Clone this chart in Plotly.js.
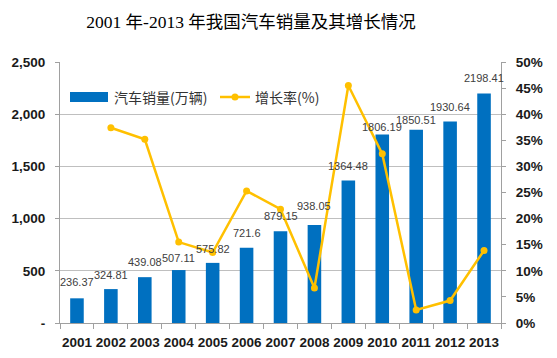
<!DOCTYPE html>
<html>
<head>
<meta charset="utf-8">
<script src="https://cdn.plot.ly/plotly-3.0.1.min.js"></script>
<style>html,body{margin:0;padding:0;background:#fff;}#chart{width:557px;height:358px;}</style>
</head>
<body>
<div id="chart"></div>
<script>
var years = ['2001','2002','2003','2004','2005','2006','2007','2008','2009','2010','2011','2012','2013'];
var sales = [236.37, 324.81, 439.08, 507.11, 575.82, 721.6, 879.15, 938.05, 1364.48, 1806.19, 1850.51, 1930.64, 2198.41];
var salesLabels = ['236.37','324.81','439.08','507.11','575.82','721.6','879.15','938.05','1364.48','1806.19','1850.51','1930.64','2198.41'];
var growthYears = ['2002','2003','2004','2005','2006','2007','2008','2009','2010','2011','2012','2013'];
var growth = [0.374, 0.352, 0.155, 0.135, 0.253, 0.218, 0.067, 0.455, 0.324, 0.025, 0.043, 0.139];
var leftTickVals = [0, 500, 1000, 1500, 2000, 2500];
var leftTickText = ['-', '500', '1,000', '1,500', '2,000', '2,500'];
var seriesNames = ['汽车销量(万辆)', '增长率(%)'];

// label lift above each bar (px), as placed in the original chart
var labelLift = [8, 6, 7, 4, 6, 7, 7, 11, 7, -1, 2, 6, 7];

var W = 557, H = 358, ML = 60, MR = 56, MT = 62, MB = 35;
var PW = W - ML - MR, PH = H - MT - MB;
function px(x) { return (x - ML) / PW; }
function py(y) { return (H - MB - y) / PH; }

var BLUE = '#0070C0', GOLD = '#FFC000';
var tickFont = {family: 'Liberation Sans, Arial, sans-serif', size: 13.5, color: '#1a1a1a', weight: 'bold'};

var traces = [
  {
    type: 'bar', x: years, y: sales, name: seriesNames[0],
    marker: {color: BLUE}, hoverinfo: 'none'
  },
  {
    type: 'scatter', mode: 'lines+markers', x: growthYears, y: growth, name: seriesNames[1],
    yaxis: 'y2', line: {color: GOLD, width: 2.5}, marker: {color: GOLD, size: 7},
    hoverinfo: 'none'
  }
];

// category axis: annotation x given as the category index
var annotations = years.map(function (yr, i) {
  return {
    x: years.indexOf(yr), y: sales[i], xref: 'x', yref: 'y', text: salesLabels[i],
    showarrow: false, xanchor: 'center', yanchor: 'bottom', yshift: labelLift[i],
    font: {family: 'Liberation Sans, Arial, sans-serif', size: 11, color: '#404040'}
  };
});
// legend texts
annotations.push({
  x: px(112), y: py(97), xref: 'paper', yref: 'paper', text: seriesNames[0],
  showarrow: false, xanchor: 'left', yanchor: 'middle',
  font: {family: 'Noto Sans CJK SC, sans-serif', size: 14, color: '#333'}
});
annotations.push({
  x: px(253), y: py(97), xref: 'paper', yref: 'paper', text: seriesNames[1],
  showarrow: false, xanchor: 'left', yanchor: 'middle',
  font: {family: 'Noto Sans CJK SC, sans-serif', size: 14, color: '#333'}
});

var shapes = [
  {type: 'rect', xref: 'paper', yref: 'paper', x0: px(70), x1: px(108), y0: py(102), y1: py(92),
   fillcolor: BLUE, line: {width: 0}},
  {type: 'line', xref: 'paper', yref: 'paper', x0: px(220), x1: px(250), y0: py(97), y1: py(97),
   line: {color: GOLD, width: 2.5}},
  {type: 'circle', xref: 'paper', yref: 'paper', x0: px(231.5), x1: px(238.5), y0: py(100.5), y1: py(93.5),
   fillcolor: GOLD, line: {width: 0}}
];

var layout = {
  width: W, height: H,
  margin: {l: ML, r: MR, t: MT, b: MB},
  paper_bgcolor: '#fff', plot_bgcolor: '#fff',
  title: {
    text: '2001 年-2013 年我国汽车销量及其增长情况',
    font: {family: 'Liberation Serif, Noto Sans CJK SC, serif', size: 17.5, color: '#000'},
    x: 251 / W, xanchor: 'center', y: 0.94, yanchor: 'middle'
  },
  bargap: 0.6,
  showlegend: false,
  annotations: annotations,
  shapes: shapes,
  xaxis: {
    type: 'category', categoryarray: years, categoryorder: 'array',
    range: [-0.5, years.length - 0.5],
    showgrid: false, showline: true, linecolor: '#a0a0a0', linewidth: 1,
    ticks: 'outside', tickson: 'boundaries', ticklen: 5, tickcolor: '#a0a0a0', tickangle: 0,
    ticklabelstandoff: 7,
    tickfont: {family: 'Liberation Sans, Arial, sans-serif', size: 13.5, color: '#1a1a1a', weight: 'bold'},
    fixedrange: true
  },
  yaxis: {
    range: [0, 2500], tickvals: leftTickVals, ticktext: leftTickText,
    showgrid: true, gridcolor: '#bfbfbf', gridwidth: 1,
    showline: true, linecolor: '#a0a0a0', ticks: 'outside', ticklen: 4, tickcolor: '#a0a0a0',
    ticklabelstandoff: 7,
    tickfont: tickFont, zeroline: false, fixedrange: true
  },
  yaxis2: {
    overlaying: 'y', side: 'right', range: [0, 0.5], dtick: 0.05, tickformat: '.0%',
    showgrid: false, showline: true, linecolor: '#a0a0a0', ticks: 'outside', ticklen: 4, tickcolor: '#a0a0a0',
    ticklabelstandoff: 7,
    tickfont: tickFont, zeroline: false, fixedrange: true
  }
};

Plotly.newPlot('chart', traces, layout, {displayModeBar: false, staticPlot: true});
</script>
</body>
</html>
